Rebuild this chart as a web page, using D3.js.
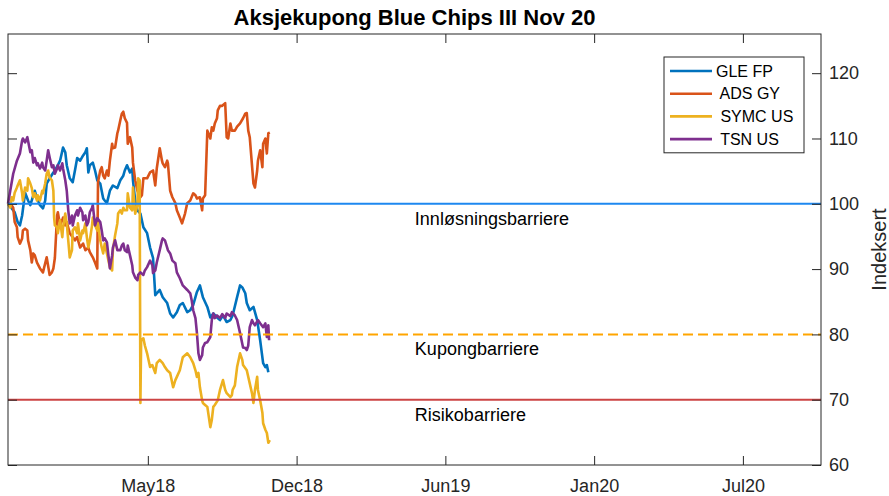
<!DOCTYPE html>
<html>
<head>
<meta charset="utf-8">
<script src="https://cdn.jsdelivr.net/npm/d3@7"></script>
<style>
  body { margin: 0; background: #fff; }
  svg { font-family: "Liberation Sans", Arial, Helvetica, sans-serif; }
  .tick line, .domain { stroke: #262626; }
  .tick text { fill: #262626; }
</style>
</head>
<body>
<svg id="chart" width="889" height="496"></svg>
<script>
// product start and axis end
var startDate = new Date(2017, 10, 13),
    endDate = new Date(2020, 10, 10);

var title = "Aksjekupong Blue Chips III Nov 20";
var yLabel = "Indeksert";

var tickDates = ["2018-05-20", "2018-12-06", "2019-06-24", "2020-01-10", "2020-07-28"];
var yTicks = [60, 70, 80, 90, 100, 110, 120];

var seriesNames = ["GLE FP", " ADS GY", " SYMC US", " TSN US"];

// [days since start, index level]
var gleFP = [[0,100],[5,99.3],[9,98.7],[13,97.2],[16,96.7],[19,98.2],[23,101.7],[27,100.5],[30,99.8],
  [36,102.0],[39,100.8],[43,99.8],[47,99.3],[50,100.5],[52,103.1],[56,103.9],[61,104.8],[63,105.1],
  [67,105.9],[70,106.6],[74,108.6],[77,107.9],[79,105.9],[83,103.9],[87,103.3],[90,105.1],[93,107.0],
  [97,106.6],[101,107.4],[104,107.9],[106,108.5],[108,104.8],[110,105.9],[114,106.3],[117,105.1],
  [120,103.6],[124,103.1],[128,100.8],[130,100.5],[133,100.1],[137,102.0],[141,102.8],[147,102.4],
  [151,103.6],[155,104.3],[157,105.1],[160,105.9],[164,104.8],[167,105.4],[168,103.6],[171,100.5],
  [174,99.0],[178,98.5],[182,96.4],[187,95.5],[191,93.3],[195,91.7],[198,86.0],[200,86.3],[204,86.8],
  [208,85.7],[214,84.8],[218,83.2],[222,82.6],[227,83.4],[231,84.5],[235,84.8],[241,83.4],[245,83.7],
  [249,84.5],[252,85.7],[254,86.5],[258,87.5],[262,85.7],[268,84.2],[272,82.6],[276,83.2],[281,82.6],
  [285,82.2],[289,82.9],[294,81.9],[299,82.2],[302,82.9],[308,85.7],[312,87.5],[315,87.2],[319,86.3],
  [321,84.8],[325,83.7],[330,84.2],[335,82.2],[339,79.1],[343,75.6],[346,75.0],[348,75.3],[350,74.2]];

var adsGY = [[0,100],[3,100.1],[7,99.4],[9,97.2],[12,96.4],[13,94.9],[16,93.9],[19,94.7],[20,95.9],
  [23,96.2],[26,95.9],[27,94.4],[30,92.9],[32,91.0],[34,92.4],[36,92.1],[39,91.0],[43,90.1],[47,89.5],
  [50,90.9],[52,91.8],[56,89.1],[59,89.5],[61,90.1],[63,91.7],[66,98.2],[67,98.7],[70,96.7],[73,97.5],
  [74,97.9],[77,96.7],[79,97.2],[83,95.5],[87,94.9],[90,94.4],[93,94.9],[97,93.3],[101,93.9],[104,92.9],
  [108,93.3],[110,92.6],[114,91.8],[117,91.0],[120,90.1],[121,103.3],[124,105.1],[126,105.6],[128,104.3],
  [130,103.9],[133,105.1],[135,104.3],[137,106.6],[140,109.2],[141,108.5],[144,108.6],[147,110.8],
  [148,111.2],[151,112.8],[153,113.8],[155,114.1],[157,113.1],[160,112.4],[161,109.2],[164,110.2],
  [167,108.6],[168,106.3],[171,103.6],[174,102.0],[178,101.0],[180,101.3],[182,103.9],[187,103.9],
  [191,104.8],[195,105.1],[198,102.8],[200,105.4],[204,108.5],[207,106.6],[208,106.2],[211,105.6],
  [214,106.6],[215,106.2],[218,102.0],[221,101.0],[225,100.1],[227,99.0],[231,97.9],[234,97.0],
  [238,98.5],[241,100.1],[245,100.5],[249,101.6],[252,101.3],[254,100.8],[258,101.0],[261,99.0],
  [262,100.8],[265,101.3],[268,111.2],[272,110.0],[274,111.7],[276,111.2],[278,112.3],[281,113.1],
  [282,114.3],[285,115.0],[288,115.0],[292,115.4],[294,110.2],[296,110.0],[299,112.3],[301,111.2],
  [305,111.2],[308,111.8],[312,112.3],[316,113.1],[319,113.8],[321,113.9],[323,111.2],[325,110.2],
  [330,103.1],[332,102.5],[335,105.1],[336,106.6],[339,108.2],[342,105.6],[343,109.2],[346,110.0],
  [348,107.7],[350,110.8],[352,110.9]];

var symcUS = [[0,100],[3,99.4],[5,101.0],[7,100.5],[9,101.7],[12,102.5],[13,102.8],[16,103.6],[19,101.6],
  [20,100.5],[23,102.5],[26,102.0],[27,103.9],[30,103.1],[32,102.4],[34,101.0],[36,101.6],[39,100.5],
  [40,101.3],[43,100.5],[46,102.0],[47,101.6],[50,103.1],[52,104.6],[54,105.1],[56,104.0],[59,103.6],
  [61,102.0],[62,97.9],[63,96.7],[66,96.4],[67,95.5],[70,97.5],[73,94.9],[74,96.4],[77,98.5],[79,97.0],
  [81,94.4],[83,91.8],[86,92.9],[87,95.9],[90,96.4],[93,95.5],[94,97.0],[97,94.4],[100,95.9],[101,95.5],
  [104,97.0],[106,94.9],[108,93.3],[110,94.4],[113,96.7],[114,97.9],[117,96.7],[120,95.9],[121,97.0],
  [124,94.4],[126,93.3],[128,92.4],[130,93.9],[133,92.4],[135,91.3],[137,90.3],[140,89.8],[141,92.9],
  [144,95.2],[147,97.0],[148,98.5],[151,99.0],[153,98.5],[155,99.4],[157,99.0],[160,99.0],[161,101.6],
  [164,99.4],[167,99.0],[168,102.5],[171,98.5],[174,99.8],[175,103.9],[177,103.6],[178,69.5],[179,79.1],
  [182,79.4],[184,78.3],[187,77.1],[191,75.0],[194,75.3],[195,75.0],[198,74.1],[200,75.6],[204,76.1],
  [208,75.6],[211,75.0],[214,74.5],[218,74.1],[222,71.9],[225,73.0],[227,73.5],[231,74.5],[235,76.5],
  [238,76.8],[241,77.1],[245,76.5],[249,75.6],[252,74.5],[254,73.5],[256,74.1],[258,71.9],[261,69.9],
  [262,69.5],[265,69.2],[268,68.9],[272,65.8],[274,66.9],[276,68.9],[278,69.2],[282,69.9],[285,71.5],
  [289,73.0],[292,71.5],[294,71.0],[299,70.4],[301,70.7],[302,71.5],[305,72.2],[308,75.0],[312,77.1],
  [315,76.1],[316,75.3],[321,74.5],[325,72.5],[328,71.0],[330,69.5],[332,71.5],[335,73.5],[336,71.5],
  [339,69.9],[342,68.0],[343,66.4],[346,65.4],[348,64.9],[350,63.4],[352,63.8]];

var tsnUS = [[0,100],[3,102.0],[7,104.6],[12,106.6],[16,107.7],[19,109.7],[20,110.0],[23,109.4],
  [26,110.2],[30,107.9],[32,108.2],[34,106.3],[36,107.0],[39,105.9],[40,106.2],[43,105.4],[46,106.3],
  [47,105.6],[50,105.1],[52,106.6],[54,108.2],[56,107.1],[59,105.6],[61,105.9],[63,104.6],[66,105.4],
  [67,105.9],[70,105.1],[73,106.2],[74,105.4],[77,103.6],[79,102.0],[81,99.0],[83,97.0],[86,98.2],
  [87,96.7],[90,98.2],[93,99.0],[94,98.2],[97,99.4],[100,98.7],[101,97.5],[104,98.2],[106,96.7],
  [108,97.2],[110,98.7],[113,99.4],[114,99.8],[117,96.7],[120,97.8],[124,97.2],[126,95.9],[128,94.4],
  [130,94.7],[133,94.1],[135,92.1],[137,90.1],[140,92.1],[141,93.3],[144,94.4],[147,92.9],[151,92.9],
  [153,93.6],[155,93.9],[157,92.9],[160,92.6],[161,93.6],[164,92.1],[167,90.6],[168,89.5],[171,88.7],
  [174,88.3],[175,89.1],[178,89.5],[182,89.1],[184,89.8],[187,90.3],[191,91.3],[194,90.6],[195,89.4],
  [198,89.8],[200,91.0],[204,92.9],[207,94.4],[208,94.7],[211,94.4],[214,93.3],[215,92.9],[218,92.4],
  [221,91.3],[225,90.9],[227,89.5],[231,88.6],[235,87.5],[241,86.8],[245,86.3],[247,85.2],[249,83.7],
  [252,82.5],[254,80.2],[256,77.1],[258,76.1],[261,76.8],[262,78.0],[265,78.7],[268,78.8],[272,79.6],
  [274,82.2],[276,83.2],[278,82.5],[281,82.9],[285,82.5],[288,83.1],[292,82.5],[294,83.2],[299,82.8],
  [301,83.4],[305,82.9],[308,82.2],[312,80.2],[316,78.0],[319,77.9],[321,77.6],[323,78.3],[325,81.1],
  [328,82.2],[330,81.7],[332,81.4],[336,82.2],[339,81.7],[343,81.1],[346,81.7],[348,79.6],[350,81.4],
  [351,79.1]];

var barrierLevels = [100, 80, 70];
var barrierLabels = ["Innløsningsbarriere", "Kupongbarriere", "Risikobarriere"];
var barrierLabelDate = "2019-05-14";

var seriesColors = ["#0072BD", "#D95319", "#EDB120", "#7E2F8E"];
var barrierColors = ["#1E88F0", "#FFA500", "#CC4444"];
var barrierDash = [null, "10,5", null];

var width = 889, height = 496,
    plot = {left: 8, right: 821, top: 34, bottom: 465};

var parseDate = d3.timeParse("%Y-%m-%d");
var allSeries = [gleFP, adsGY, symcUS, tsnUS];

var svg = d3.select("#chart");

var x = d3.scaleTime()
  .domain([startDate, endDate])
  .range([plot.left, plot.right]);

var y = d3.scaleLinear()
  .domain([60, 126])
  .range([plot.bottom, plot.top]);

var line = d3.line()
  .x(function(d) { return x(d3.timeDay.offset(startDate, d[0])); })
  .y(function(d) { return y(d[1]); });

var xAxis = d3.axisBottom(x)
  .tickValues(tickDates.map(parseDate))
  .tickFormat(d3.timeFormat("%b%y"))
  .tickSizeInner(-9)
  .tickSizeOuter(0)
  .tickPadding(14);

var xAxisTop = d3.axisTop(x)
  .tickValues(tickDates.map(parseDate))
  .tickFormat("")
  .tickSizeInner(-9)
  .tickSizeOuter(0);

var yAxis = d3.axisRight(y)
  .tickValues(yTicks)
  .tickSizeInner(-9)
  .tickSizeOuter(0)
  .tickPadding(8);

var yAxisLeft = d3.axisLeft(y)
  .tickValues(yTicks)
  .tickFormat("")
  .tickSizeInner(-9)
  .tickSizeOuter(0);

// series
var lines = svg.append("g").attr("class", "series");
lines.selectAll("path")
    .data(allSeries)
  .enter().append("path")
    .attr("d", line)
    .attr("fill", "none")
    .attr("stroke", function(d, i) { return seriesColors[i]; })
    .attr("stroke-width", 2.6)
    .attr("stroke-linejoin", "round");

// barriers
var barrierG = svg.append("g").attr("class", "barriers");
barrierG.selectAll("line")
    .data(barrierLevels)
  .enter().append("line")
    .attr("x1", plot.left)
    .attr("x2", plot.right)
    .attr("y1", function(d) { return y(d); })
    .attr("y2", function(d) { return y(d); })
    .attr("stroke", function(d, i) { return barrierColors[i]; })
    .attr("stroke-width", 2)
    .attr("stroke-dasharray", function(d, i) { return barrierDash[i]; });

barrierG.selectAll("text")
    .data(barrierLevels)
  .enter().append("text")
    .attr("x", x(parseDate(barrierLabelDate)))
    .attr("y", function(d) { return y(d) + 21; })
    .attr("font-size", 18)
    .attr("fill", "#000")
    .text(function(d, i) { return barrierLabels[i]; });

// axes
svg.append("g")
  .attr("transform", "translate(0," + plot.bottom + ")")
  .call(xAxis)
  .selectAll("text").attr("font-size", 18).attr("font-family", null);

svg.append("g")
  .attr("transform", "translate(0," + plot.top + ")")
  .call(xAxisTop);

svg.append("g")
  .attr("transform", "translate(" + plot.right + ",0)")
  .call(yAxis)
  .selectAll("text").attr("font-size", 18).attr("font-family", null);

svg.append("g")
  .attr("transform", "translate(" + plot.left + ",0)")
  .call(yAxisLeft);

svg.selectAll(".domain").remove();

svg.append("rect")
  .attr("x", plot.left)
  .attr("y", plot.top)
  .attr("width", plot.right - plot.left)
  .attr("height", plot.bottom - plot.top)
  .attr("fill", "none")
  .attr("stroke", "#262626")
  .attr("stroke-width", 1);

// legend
var legend = {right: plot.right - 17, top: plot.top + 23, w: 140, rowH: 22.7};
var lg = svg.append("g")
  .attr("transform", "translate(" + (legend.right - legend.w) + "," + legend.top + ")");

lg.append("rect")
  .attr("width", legend.w)
  .attr("height", seriesNames.length * legend.rowH + 5)
  .attr("fill", "#fff")
  .attr("stroke", "#262626")
  .attr("stroke-width", 1);

var items = lg.selectAll("g.item")
    .data(seriesNames)
  .enter().append("g")
    .attr("class", "item")
    .attr("transform", function(d, i) { return "translate(0," + (14 + i * legend.rowH) + ")"; });

items.append("line")
  .attr("x1", 6).attr("x2", 48)
  .attr("stroke", function(d, i) { return seriesColors[i]; })
  .attr("stroke-width", 2.6);

items.append("text")
  .attr("x", 52)
  .attr("dy", "0.35em")
  .attr("font-size", 16)
  .style("white-space", "pre")
  .text(function(d) { return d; });

// title and y label
svg.append("text")
  .attr("x", (plot.left + plot.right) / 2)
  .attr("y", 25)
  .attr("text-anchor", "middle")
  .attr("font-size", 22)
  .attr("font-weight", "bold")
  .text(title);

svg.append("text")
  .attr("transform", "translate(886," + (plot.top + plot.bottom) / 2 + ") rotate(-90)")
  .attr("text-anchor", "middle")
  .attr("font-size", 20)
  .attr("fill", "#262626")
  .text(yLabel);
</script>
</body>
</html>
